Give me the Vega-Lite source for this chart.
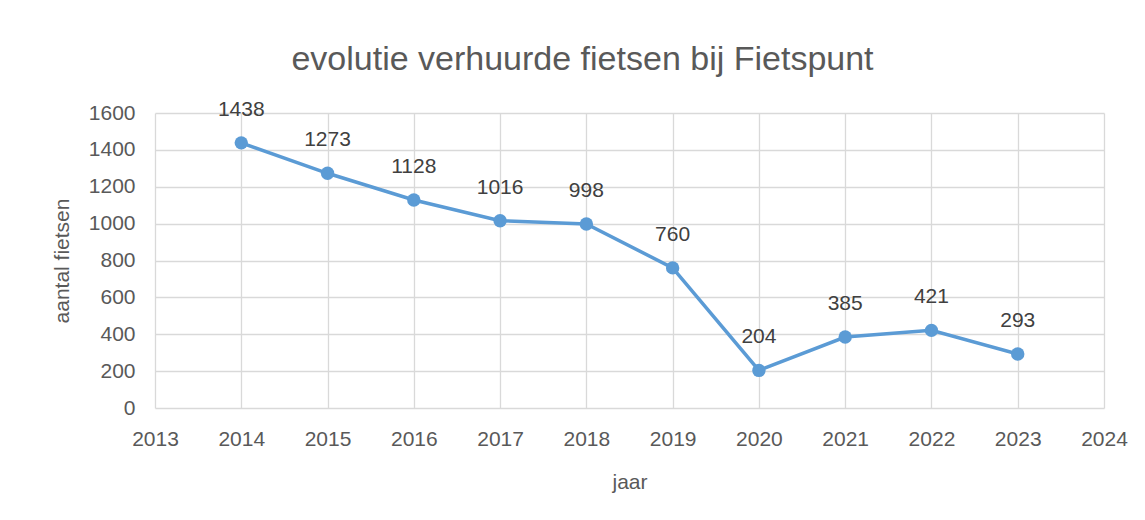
{
  "$schema": "https://vega.github.io/schema/vega-lite/v6.json",
  "width": 949,
  "height": 295,
  "autosize": {"type": "none"},
  "padding": {"left": 155, "top": 113, "right": 41, "bottom": 112},
  "background": "white",
  "config": {
    "view": {"stroke": null},
    "font": "Liberation Sans",
    "axis": {
      "gridColor": "#d9d9d9",
      "gridWidth": 1.3,
      "domain": false,
      "ticks": false,
      "labelColor": "#595959",
      "labelFontSize": 21,
      "labelFlush": false,
      "labelBound": false,
      "labelOverlap": false,
      "titleColor": "#595959",
      "titleFontSize": 21,
      "titleFontWeight": "normal"
    }
  },
  "title": {
    "text": "evolutie verhuurde fietsen bij Fietspunt",
    "fontSize": 34,
    "fontWeight": "normal",
    "color": "#595959",
    "anchor": "middle",
    "dx": -47,
    "offset": 22
  },
  "data": {
    "values": [
      {"jaar": 2014, "aantal": 1438},
      {"jaar": 2015, "aantal": 1273},
      {"jaar": 2016, "aantal": 1128},
      {"jaar": 2017, "aantal": 1016},
      {"jaar": 2018, "aantal": 998},
      {"jaar": 2019, "aantal": 760},
      {"jaar": 2020, "aantal": 204},
      {"jaar": 2021, "aantal": 385},
      {"jaar": 2022, "aantal": 421},
      {"jaar": 2023, "aantal": 293}
    ]
  },
  "encoding": {
    "x": {
      "field": "jaar",
      "type": "quantitative",
      "title": "jaar",
      "scale": {"domain": [2013, 2024], "nice": false, "zero": false},
      "axis": {"values": [2013, 2014, 2015, 2016, 2017, 2018, 2019, 2020, 2021, 2022, 2023, 2024], "format": "d", "labelPadding": 20, "titlePadding": 22}
    },
    "y": {
      "field": "aantal",
      "type": "quantitative",
      "title": "aantal fietsen",
      "scale": {"domain": [0, 1600], "nice": false},
      "axis": {"values": [0, 200, 400, 600, 800, 1000, 1200, 1400, 1600], "format": "d", "labelPadding": 20, "titlePadding": 16}
    }
  },
  "layer": [
    {"mark": {"type": "line", "color": "#5b9bd5", "strokeWidth": 3.5}},
    {"mark": {"type": "point", "filled": true, "opacity": 1, "color": "#5b9bd5", "size": 180}},
    {
      "mark": {"type": "text", "dy": -33, "fontSize": 21, "color": "#404040"},
      "encoding": {"text": {"field": "aantal", "type": "quantitative", "format": "d"}}
    }
  ]
}
